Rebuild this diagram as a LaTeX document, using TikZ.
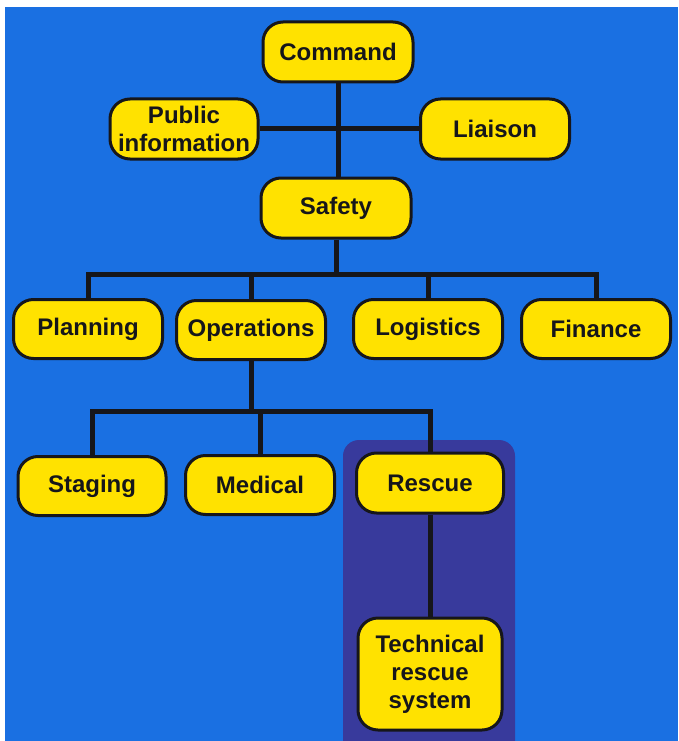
\documentclass[tikz,border=0pt]{standalone}
\usepackage{fontspec}
\setmainfont{Liberation Sans}
\definecolor{bgblue}{RGB}{26,112,226}
\definecolor{hlnavy}{RGB}{56,58,156}
\definecolor{boxyellow}{RGB}{255,226,0}
\definecolor{ink}{RGB}{22,22,26}
\tikzset{
  orgbox/.style={draw=ink, line width=3pt, fill=boxyellow, rounded corners=20pt,
    minimum width=149pt, minimum height=60pt, inner sep=0pt, align=center,
    text=ink, font=\fontsize{24}{28}\selectfont\bfseries},
  link/.style={draw=ink, line width=5pt}
}
\begin{document}
\begin{tikzpicture}[x=1pt,y=-1pt]
\useasboundingbox (0,0) rectangle (678,741);
\fill[white] (0,0) rectangle (678,741);
\fill[bgblue] (5,7) rectangle (678,741);
\fill[hlnavy, rounded corners=16pt] (343,440) rectangle (515,760);

\node[orgbox, minimum width=150pt] (command) at (338,52) {Command};
\node[orgbox, minimum width=148pt] (pubinfo) at (184,129) {Public\\information};
\node[orgbox] (liaison) at (495,129) {Liaison};
\node[orgbox, minimum width=150pt] (safety) at (336,208) {Safety};

\node[orgbox, minimum height=59pt] (planning) at (88,329) {Planning};
\node[orgbox, minimum height=59pt] (operations) at (251,330) {Operations};
\node[orgbox, minimum height=59pt] (logistics) at (428,329) {Logistics};
\node[orgbox, minimum height=59pt] (finance) at (596,329) {Finance};

\node[orgbox, minimum width=148pt, minimum height=59pt] (staging) at (92,486) {Staging};
\node[orgbox, minimum height=59pt] (medical) at (260,485) {Medical};
\node[orgbox, minimum width=147pt] (rescue) at (430,483) {Rescue};
\node[orgbox, minimum width=144pt, minimum height=112pt] (tech) at (430,674) {Technical\\rescue\\system};

\coordinate (busA) at (0,274);
\coordinate (busB) at (0,411);

\draw[link] (command.south) -- (command.south |- safety.north);
\draw[link] (pubinfo.east) -- (liaison.west);
\draw[link] (safety.south) -- (safety.south |- busA);
\draw[link] (planning.north) -- (planning.north |- busA) -| (finance.north);
\draw[link] (operations.north) -- (operations.north |- busA);
\draw[link] (logistics.north) -- (logistics.north |- busA);
\draw[link] (operations.south) -- (operations.south |- busB);
\draw[link] (staging.north) -- (staging.north |- busB) -| (rescue.north);
\draw[link] (medical.north) -- (medical.north |- busB);
\draw[link] (rescue.south) -- (tech.north);
\end{tikzpicture}
\end{document}
